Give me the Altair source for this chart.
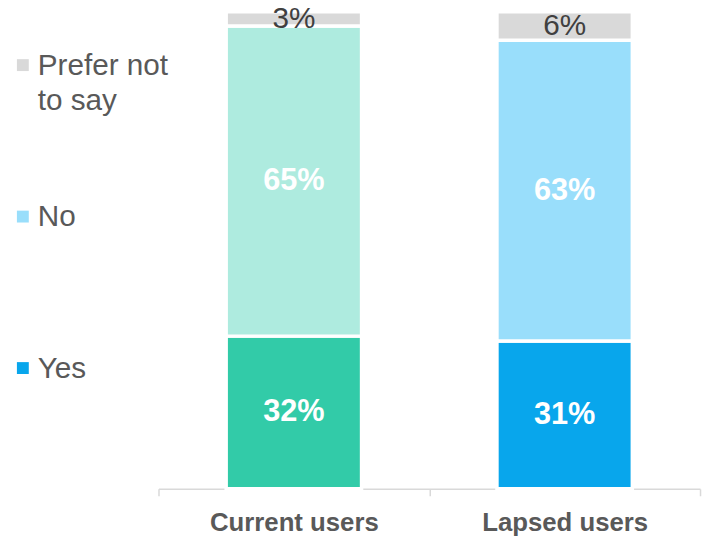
import altair as alt
import pandas as pd

# ---- data ----
groups = ["Current users", "Lapsed users"]
answers = ["Yes", "No", "Prefer not to say"]
yes_vals = [32, 31]
no_vals = [65, 63]
prefer_vals = [3, 6]

bar_colors = {
    ("Current users", "Yes"): "#32CBA8",
    ("Current users", "No"): "#AEEBDF",
    ("Current users", "Prefer not to say"): "#D9D9D9",
    ("Lapsed users", "Yes"): "#08A6EC",
    ("Lapsed users", "No"): "#99DEFB",
    ("Lapsed users", "Prefer not to say"): "#D9D9D9",
}
legend_answers = ["Prefer not to say", "No", "Yes"]
legend_colors = ["#D9D9D9", "#99DEFB", "#08A6EC"]
legend_texts = ["Prefer not\nto say", "No", "Yes"]

FONT = "Liberation Sans"

rows = []
for gi, g in enumerate(groups):
    vals = {"Yes": yes_vals[gi], "No": no_vals[gi], "Prefer not to say": prefer_vals[gi]}
    cum = 0
    for oi, a in enumerate(answers):
        v = vals[a]
        rows.append({"group": g, "answer": a, "value": v, "ord": oi,
                     "key": g + "|" + a, "mid": cum + v / 2, "label": f"{v}%"})
        cum += v
df = pd.DataFrame(rows)

keys = [g + "|" + a for g in groups for a in answers]
key_colors = [bar_colors[(g, a)] for g in groups for a in answers]

yscale = alt.Scale(domain=[0, 100], nice=False, zero=True)
xenc = alt.X("group:N", sort=groups, title=None,
             scale=alt.Scale(paddingInner=0, paddingOuter=0),
             axis=alt.Axis(labelAngle=0, tickBand="extent", tickSize=7,
                           labelPadding=14, labelFontSize=26, labelFontWeight="bold",
                           labelColor="#595959", labelFont=FONT,
                           domainColor="#D9D9D9", tickColor="#D9D9D9",
                           domainWidth=1.5, tickWidth=1.5, grid=False))

bars = alt.Chart(df).mark_bar(width=alt.RelativeBandSize(0.5), stroke="white",
                              strokeWidth=3.5).encode(
    x=xenc,
    y=alt.Y("value:Q", stack="zero", scale=yscale, axis=None),
    color=alt.Color("key:N", scale=alt.Scale(domain=keys, range=key_colors), legend=None),
    order=alt.Order("ord:Q", sort="ascending"),
)

in_labels = alt.Chart(df).transform_filter(
    "datum.answer != 'Prefer not to say'"
).mark_text(font=FONT, fontSize=31, fontWeight="bold", color="white",
            baseline="middle").encode(
    x=alt.X("group:N", sort=groups),
    y=alt.Y("mid:Q", scale=yscale, axis=None),
    text="label:N",
)

top_labels = alt.Chart(df).transform_filter(
    "datum.answer == 'Prefer not to say'"
).mark_text(font=FONT, fontSize=30, color="#404040", baseline="middle").encode(
    x=alt.X("group:N", sort=groups),
    y=alt.Y("mid:Q", scale=yscale, axis=None),
    text="label:N",
)

leg_df = pd.DataFrame({"answer": legend_answers, "text": legend_texts})
leg_y = alt.Scale(domain=legend_answers, range=[54, 360], padding=0)

leg_sq = alt.Chart(leg_df).mark_square(size=144, opacity=1, filled=True).encode(
    x=alt.value(-137),
    y=alt.Y("answer:N", scale=leg_y, axis=None, sort=legend_answers),
    color=alt.Color("answer:N", scale=alt.Scale(domain=legend_answers, range=legend_colors),
                    legend=None),
)
leg_tx = alt.Chart(leg_df).mark_text(font=FONT, fontSize=30, color="#595959", align="left",
                                     baseline="alphabetic", lineBreak="\n", lineHeight=35,
                                     dy=10).encode(
    x=alt.value(-122),
    y=alt.Y("answer:N", scale=leg_y, axis=None, sort=legend_answers),
    text="text:N",
)

chart = alt.layer(bars, in_labels, top_labels, leg_sq, leg_tx).resolve_scale(
    y="independent", color="independent"
).properties(
    width=547, height=482, autosize="none",
    padding={"left": 152, "top": 1, "right": 2, "bottom": 50},
).configure_view(stroke=None)

chart.save("out.html", embed_options={"renderer": "svg", "actions": False})
